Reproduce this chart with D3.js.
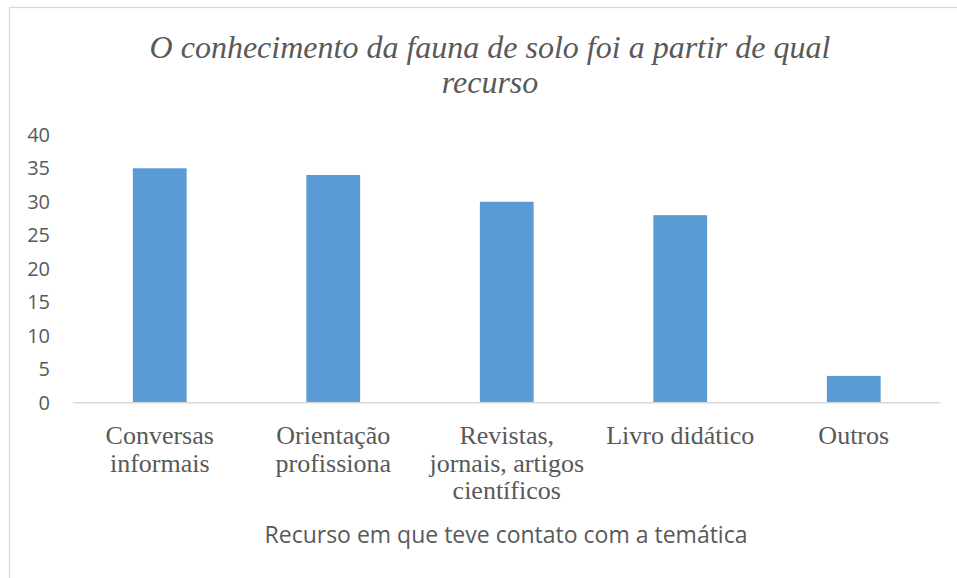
<!DOCTYPE html>
<html>
<head>
<meta charset="utf-8">
<script src="https://cdn.jsdelivr.net/npm/d3@7"></script>
<style>
  body { margin: 0; background: #fff; }
  svg { display: block; }
</style>
</head>
<body>
<svg></svg>
<script>
let categories = [
  ['Conversas', 'informais'],
  ['Orientação', 'profissiona'],
  ['Revistas,', 'jornais, artigos', 'científicos'],
  ['Livro didático'],
  ['Outros']
];
let values = [35, 34, 30, 28, 4];
let yTicks = [0, 5, 10, 15, 20, 25, 30, 35, 40];
let titleLines = ['O conhecimento da fauna de solo foi a partir de qual', 'recurso'];
let xTitle = 'Recurso em que teve contato com a temática';

let w = 957;
let h = 578;
let padL = 73, padR = 940.5, padT = 134.8, padB = 402.7;

let svg = d3.select('svg').attr('width', w).attr('height', h);

// chart frame (runs off the right/bottom edge)
svg.append('rect')
   .attr('x', 9.5).attr('y', 7.5)
   .attr('width', w + 10).attr('height', h + 10)
   .attr('fill', 'none')
   .attr('stroke', '#d9d9d9')
   .attr('stroke-width', 1.3);

let xScale = d3.scaleBand()
               .domain(d3.range(values.length))
               .range([padL, padR])
               .paddingInner(0.69)
               .paddingOuter(0.345);

let yScale = d3.scaleLinear()
               .domain([0, 40])
               .range([padB, padT]);

// bars
svg.selectAll('rect.bar')
   .data(values)
   .enter()
   .append('rect')
   .attr('class', 'bar')
   .attr('x', (d, i) => xScale(i))
   .attr('width', xScale.bandwidth())
   .attr('y', d => yScale(d))
   .attr('height', d => padB - yScale(d))
   .attr('fill', '#5b9bd5');

// x axis line
svg.append('line')
   .attr('x1', padL).attr('x2', padR)
   .attr('y1', padB).attr('y2', padB)
   .attr('stroke', '#d9d9d9')
   .attr('stroke-width', 1.5);

// y axis labels
let yAxis = d3.axisLeft(yScale).tickValues(yTicks).tickSize(0).tickPadding(0);
let yg = svg.append('g')
   .attr('transform', 'translate(50, 0)')
   .call(yAxis);
yg.select('.domain').remove();
yg.selectAll('text')
  .attr('fill', '#595959')
  .style('font-family', '"Open Sans", "Liberation Sans", sans-serif')
  .style('font-size', '20px');

// category labels
let catStep = 27.5;
svg.selectAll('text.cat')
   .data(categories)
   .enter()
   .append('text')
   .attr('class', 'cat')
   .attr('text-anchor', 'middle')
   .attr('fill', '#595959')
   .style('font-family', '"Liberation Serif", "Times New Roman", serif')
   .style('font-size', '26px')
   .each(function (lines, i) {
     let cx = xScale(i) + xScale.bandwidth() / 2;
     d3.select(this).selectAll('tspan')
       .data(lines)
       .enter()
       .append('tspan')
       .attr('x', cx)
       .attr('y', (l, j) => 444 + j * catStep)
       .text(l => l);
   });

// title
svg.selectAll('text.title')
   .data(titleLines)
   .enter()
   .append('text')
   .attr('class', 'title')
   .attr('x', 490)
   .attr('y', (d, i) => 58 + i * 35)
   .attr('text-anchor', 'middle')
   .attr('fill', '#595959')
   .style('font-family', '"Liberation Serif", serif')
   .style('font-style', 'italic')
   .style('font-size', '32px')
   .text(d => d);

// axis title
svg.append('text')
   .attr('x', 506)
   .attr('y', 543)
   .attr('text-anchor', 'middle')
   .attr('fill', '#595959')
   .style('font-family', '"Open Sans", "Liberation Sans", sans-serif')
   .style('font-size', '23px')
   .text(xTitle);
</script>
</body>
</html>
